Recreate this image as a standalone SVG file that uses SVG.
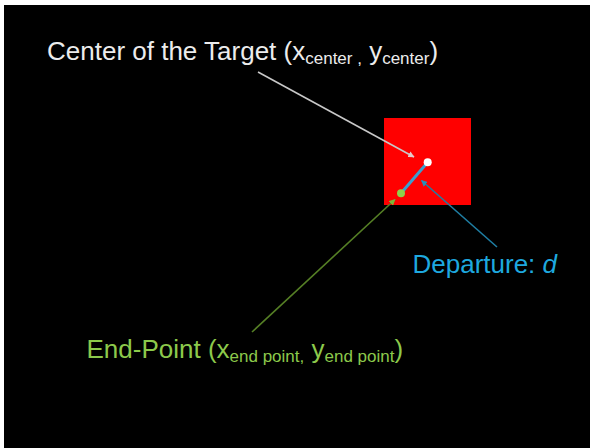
<svg xmlns="http://www.w3.org/2000/svg" width="590" height="448" viewBox="0 0 590 448">
<defs>
<style>
text{font-family:"Liberation Sans",Arial,sans-serif;font-size:26px}
.sub{font-size:17px}
.ptr{stroke-width:1.6;fill:none}
</style>
<marker id="aw" viewBox="0 0 10 10" refX="9" refY="5" markerWidth="4" markerHeight="4" orient="auto" markerUnits="strokeWidth"><path d="M0,0L10,5L0,10z" fill="#e6c9c9"/></marker>
<marker id="ab" viewBox="0 0 10 10" refX="9" refY="5" markerWidth="4" markerHeight="4" orient="auto" markerUnits="strokeWidth"><path d="M0,0L10,5L0,10z" fill="#2a8fb8"/></marker>
<marker id="ag" viewBox="0 0 10 10" refX="9" refY="5" markerWidth="4" markerHeight="4" orient="auto" markerUnits="strokeWidth"><path d="M0,0L10,5L0,10z" fill="#7fb53a"/></marker>
</defs>
<rect x="0" y="0" width="590" height="448" fill="#ffffff"/>
<rect x="4" y="5" width="586" height="443" fill="#000000"/>
<g id="target">
<rect x="384" y="118" width="87" height="87" fill="#ff0000"/>
</g>
<g id="connectors">
<line class="ptr" x1="258" y1="72" x2="414" y2="157" stroke="#c8c8c8" marker-end="url(#aw)"/>
<line class="ptr" x1="497" y1="247" x2="421.5" y2="180.5" stroke="#1f7ea3" marker-end="url(#ab)"/>
<line class="ptr" x1="252" y1="332" x2="395" y2="199.5" stroke="#557f25" marker-end="url(#ag)"/>
<line x1="427.7" y1="162.3" x2="401" y2="193.3" stroke="#3a9fd0" stroke-width="3"/>
</g>
<g id="center-point">
<circle cx="427.7" cy="162.3" r="4" fill="#ffffff"/>
</g>
<g id="end-point">
<circle cx="401" cy="193.3" r="4" fill="#8fd04a"/>
</g>
<g id="label-center">
<text x="47" y="59.5" fill="#ececec">Center of the Target (x<tspan class="sub" dy="4">center ,</tspan><tspan dy="-4"> y</tspan><tspan class="sub" dy="4">center</tspan><tspan dy="-4">)</tspan></text>
</g>
<g id="label-departure">
<text x="412.5" y="273" fill="#1ea8df">Departure: <tspan font-style="italic">d</tspan></text>
</g>
<g id="label-end">
<text x="86.5" y="357.5" fill="#8cc94b">End-Point (x<tspan class="sub" dy="4">end point,</tspan><tspan dy="-4"> y</tspan><tspan class="sub" dy="4">end point</tspan><tspan dy="-4">)</tspan></text>
</g>
</svg>
